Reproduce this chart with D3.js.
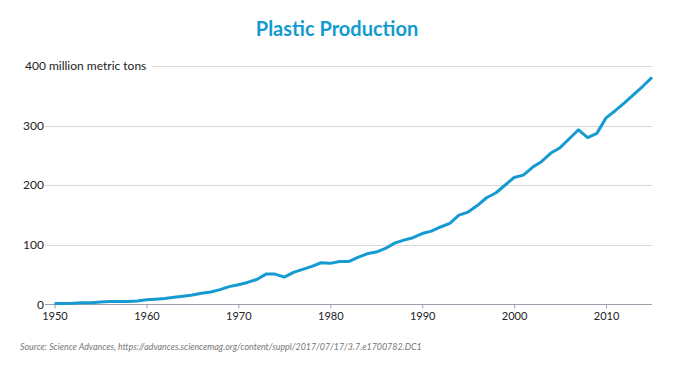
<!DOCTYPE html>
<html>
<head>
<meta charset="utf-8">
<script src="https://cdn.jsdelivr.net/npm/d3@7"></script>
<style>
  body { margin: 0; background: #fff; }
  text { font-family: Lato, sans-serif; }
</style>
</head>
<body>
<script>
let width = 674;
let height = 370;

// plastic production, million metric tons
let years = d3.range(1950, 2016);
let production = [
  1.5, 1.5, 2, 3, 3, 4, 5, 5, 5, 6,
  8, 9, 10, 12, 14, 16, 19, 21, 25, 30,
  33, 37, 42, 51, 51, 46, 54, 59, 64, 70,
  69, 72, 72, 79, 85, 88, 94, 103, 108, 112,
  119, 123, 130, 136, 150, 155, 166, 179, 187, 200,
  213, 217, 230, 240, 254, 263, 278, 293, 280, 287,
  313, 325, 338, 352, 366, 381
];
let yTicks = [0, 100, 200, 300, 400];
let xTicks = [1950, 1960, 1970, 1980, 1990, 2000, 2010];

let data = years.map((y, i) => ({year: y, value: production[i]}));

let svg = d3.select('body').append('svg')
            .attr('width', width)
            .attr('height', height);

let x = d3.scaleLinear().domain([1950, 2015]).range([54.5, 652]);
let y = d3.scaleLinear().domain([0, 400]).range([304.5, 66]);

svg.append('text')
   .attr('x', 337)
   .attr('y', 36)
   .attr('text-anchor', 'middle')
   .attr('font-size', '20px')
   .attr('font-weight', 'bold')
   .attr('fill', '#139bd0')
   .text('Plastic Production');

// gridlines
svg.selectAll('line.grid').data(yTicks.filter(d => d > 0))
   .enter()
   .append('line')
   .attr('class', 'grid')
   .attr('x1', d => d === 400 ? 152 : 45)
   .attr('x2', 652)
   .attr('y1', d => Math.round(y(d)) + 0.5)
   .attr('y2', d => Math.round(y(d)) + 0.5)
   .attr('stroke', '#d9d9d9')
   .attr('stroke-width', 1);

svg.selectAll('text.ylab').data(yTicks)
   .enter()
   .append('text')
   .attr('class', 'ylab')
   .attr('y', d => y(d) + 4)
   .attr('font-size', '12px')
   .attr('fill', '#222')
   .text(d => d === 400 ? '400 million metric tons' : d)
   .attr('x', d => d === 400 ? 25 : 44)
   .attr('text-anchor', d => d === 400 ? 'start' : 'end');

// x axis
let xAxis = d3.axisBottom(x)
              .tickValues(xTicks)
              .tickFormat(d3.format('d'))
              .tickSize(4)
              .tickSizeOuter(0);

let gx = svg.append('g')
            .attr('transform', 'translate(0,304.5)')
            .call(xAxis);
gx.select('.domain').attr('stroke', '#9aa3ad').attr('d', 'M45,0H652');
gx.selectAll('.tick line').attr('stroke', '#9aa3ad');
gx.selectAll('.tick text')
  .attr('font-family', 'Lato, sans-serif')
  .attr('font-size', '11px')
  .attr('fill', '#222')
  .attr('dy', '0.71em')
  .attr('y', 8);

let line = d3.line()
             .x(d => x(d.year))
             .y(d => y(d.value));

svg.append('path')
   .datum(data)
   .attr('d', line)
   .attr('fill', 'none')
   .attr('stroke', '#159ad1')
   .attr('stroke-width', 3)
   .attr('stroke-linejoin', 'round');

svg.append('text')
   .attr('x', 20)
   .attr('y', 350)
   .attr('font-size', '8.9px')
   .attr('font-style', 'italic')
   .attr('fill', '#777')
   .text('Source: Science Advances, https://advances.sciencemag.org/content/suppl/2017/07/17/3.7.e1700782.DC1');
</script>
</body>
</html>
